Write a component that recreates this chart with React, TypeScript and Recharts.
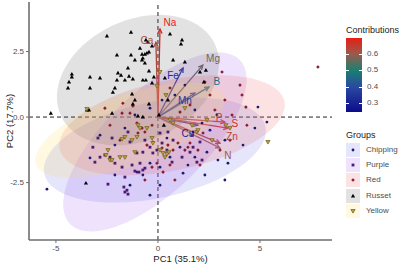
import { ScatterChart, Scatter, XAxis, YAxis, ReferenceLine } from "recharts"

// PCA scores per cultivar group
const chipping = [
  [-5.44, -2.75], [3.43, -1.76], [2.94, -1.64], [2.4, -1.34], [1.81, -1.53], [1.47, -1.83],
  [1.23, -2.14], [1.08, -1.15], [0.59, -1.53], [0.1, -1.91], [-0.39, -1.76], [-0.74, -2.21],
  [-1.03, -2.1], [0.44, -0.8], [1.72, -0.57], [2.16, -0.23], [2.89, 0.08], [4.9, 0.38],
  [5.34, -0.19], [4.75, -0.42], [4.17, -1.07], [-3.33, -1.56], [-2.84, -0.69], [-2.11, -1.07],
  [-1.62, -0.42], [-1.13, 0.08], [-0.39, 0.34], [0.2, 0.65], [0.83, 0.84], [1.32, 1.22],
  [1.81, 0.27], [2.55, -0.5], [3.28, -0.88], [0.1, -2.6], [-0.39, -2.98], [-1.37, -2.6],
  [-2.11, -2.21], [2.3, -2.21], [3.28, -2.4],
]
const purple = [
  [-2.94, -0.8], [-3.19, -1.15], [-2.84, -1.53], [-2.45, -2.56], [-1.67, -2.67], [-1.62, -2.86],
  [-1.47, -2.94], [-1.13, -2.06], [-0.93, -2.1], [-0.74, -2.02], [-1.62, -2.29], [-1.27, -1.83],
  [-2.11, -1.76], [-2.35, -1.53], [-2.6, -1.45], [-1.76, -1.91], [-0.64, -1.95], [-0.88, -1.76],
  [-1.03, -1.37], [-0.74, -1.34], [-0.39, -1.15], [-0.25, -1.37], [-0.05, -1.26], [0.2, -0.99],
  [0.44, -1.26], [0.69, -1.72], [1.18, -1.53], [1.57, -1.34], [1.91, -1.72], [2.16, -1.64],
  [2.06, -0.95], [1.72, -1.15], [-1.52, -2.79], [-3.09, -1.72], [-2.25, -0.8], [-1.37, -0.95],
  [-1.47, -0.57], [-0.64, -0.88], [0.1, -0.61], [0.49, -0.57], [0.74, -0.88],
]
const red = [
  [7.84, 1.91], [4.02, 1.22], [4.12, 0.84], [4.31, 0.38], [4.36, -0.31], [3.14, 1.72],
  [2.3, 1.34], [-1.72, 0.53], [-1.23, 0.42], [-1.37, 0.15], [-1.76, 0.15], [-1.03, -0.23],
  [-0.78, -0.42], [-0.98, -0.61], [-0.64, -0.57], [-0.29, -0.31], [-0.25, -0.95], [-0.54, -1.07],
  [-0.05, -1.76], [0.25, -2.1], [0.59, -1.83], [0.74, -1.26], [0.98, -0.99], [1.32, -1.26],
  [1.57, -0.99], [1.96, -1.26], [2.21, -0.61], [1.67, -0.69], [1.47, -1.15], [0.2, -1.18],
  [0.49, -1.07], [-0.29, -1.91], [2.79, 0.27], [3.28, 0.65], [3.63, 0.08], [2.55, 0.84],
  [1.57, 0.46], [1.08, 0.19], [0.59, 1.11], [3.04, -1.26], [3.53, -0.88], [-1.86, -0.88],
  [-2.35, -0.31], [-2.6, 0.34], [2.06, -1.83], [0.83, -2.4], [-0.64, -2.4],
]
const russet = [
  [-2.5, 3.09], [-1.32, 3.24], [-0.59, 2.94], [-0.49, 2.86], [0.59, 3.17], [1.18, 2.94],
  [1.13, 2.79], [-0.88, 2.63], [-0.78, 2.4], [-0.64, 2.4], [-0.54, 2.44], [-0.44, 2.48],
  [-2.01, 2.37], [-1.32, 2.37], [-1.13, 2.18], [-0.74, 2.25], [-0.64, 2.06], [-0.29, 2.71],
  [-4.22, 1.64], [-4.22, 1.53], [-4.36, 1.34], [-4.41, 1.11], [-3.33, 1.11], [-2.84, 1.49],
  [-3.33, 1.53], [-1.96, 1.68], [-1.81, 1.6], [-1.47, 1.87], [-1.42, 1.56], [-1.62, 1.41],
  [-2.01, 1.41], [-1.23, 1.45], [-0.74, 1.41], [-0.59, 1.41], [-0.44, 1.76], [-0.2, 1.53],
  [-0.29, 1.3], [-2.11, 1.11], [-2.21, 0.95], [-1.27, 0.88], [-1.13, 0.65], [-1.23, 0.5],
  [-3.48, 0.27], [-3.38, 0.27], [-5.25, 0.15], [-0.98, 0.04], [-0.74, 0.0], [0.05, 0.08],
  [-3.53, -2.52], [0.74, 2.18], [1.32, 2.1], [2.06, 1.72], [2.35, 1.79], [2.25, 1.34],
  [0.34, 1.49], [0.49, 0.65], [-0.78, 2.18], [-2.25, 0.15], [-0.44, 0.5], [0.29, -0.31],
]
const yellow = [
  [-3.48, 0.31], [-2.45, -1.26], [-2.55, -1.45], [-2.35, -1.64], [-1.86, -1.53], [-1.62, -1.53],
  [-0.98, -0.31], [-0.88, -0.42], [-0.54, -0.42], [-1.03, -0.76], [-1.27, -0.88], [-0.29, -0.8],
  [-0.25, -0.99], [0.44, -1.41], [0.54, -1.34], [0.1, 1.72], [-0.05, 1.18], [-1.62, -0.76],
  [-1.76, -0.84], [-1.13, -1.34], [0.1, -1.26], [0.25, -1.37], [0.34, -1.53], [0.59, -0.11],
  [0.74, -0.23], [1.67, -0.31], [1.91, -0.57], [5.39, -0.95], [1.96, -0.5], [2.4, -0.11],
  [-2.25, -1.64], [3.33, -0.31], [3.53, -0.42], [2.65, -0.88], [1.32, 0.34], [0.39, 0.84],
]

const groups = ["Chipping", "Purple", "Red", "Russet", "Yellow"]
const groupScores = [chipping, purple, red, russet, yellow]

// concentration ellipses: centre and the two semi-axis vectors (data units)
const ellipseCentre = [[-0.15, -1.26], [-0.15, -0.95], [0.69, -0.31], [-0.98, 1.41], [-1.37, -0.5]]
const ellipseAxisA = [[5.42, 0.9], [4.16, 3.13], [5.51, 0.91], [3.77, 1.37], [4.61, 1.31]]
const ellipseAxisB = [[0.49, -1.79], [1.7, -1.37], [0.46, -1.68], [1.25, -2.08], [0.59, -1.26]]

// variable loadings (arrow tips), contributions and label spots
const variables = ["Na", "Ca", "Mg", "Fe", "B", "Mn", "Cu", "P", "S", "Zn", "N"]
const loadings = [
  [0.1, 3.36], [-0.1, 2.85], [2.2, 1.98], [1.23, 1.87], [2.5, 1.15], [1.81, 0.92],
  [1.96, -0.31], [3.28, -0.19], [3.43, -0.42], [3.04, -1.0], [3.04, -1.18],
]
const contributions = [0.69, 0.63, 0.56, 0.33, 0.47, 0.36, 0.3, 0.66, 0.67, 0.64, 0.6]
const labelAt = [
  [0.59, 3.59], [-0.54, 2.94], [2.7, 2.25], [0.74, 1.6], [2.89, 1.34], [1.32, 0.65],
  [1.47, -0.61], [2.99, 0.0], [3.77, -0.23], [3.63, -0.76], [3.43, -1.45],
]
const contribTicks = [0.3, 0.4, 0.5, 0.6]

const fillCols = ["#7070f0", "#a060f0", "#f06060", "#606060", "#ffe060"]
const pointCols = ["#1c1c70", "#4b1c70", "#8c1c2c", "#000000", "#7a6a1c"]
const gradStops = [0.245, 0.4, 0.5, 0.6, 0.697]
const gradCols = ["#0c0c8c", "#2a4aa0", "#1a8070", "#9c5a4c", "#e81e14"]

const font = '"Liberation Sans", Arial, sans-serif'

function hexToRgb(h: string) {
  const n = parseInt(h.slice(1), 16)
  return [(n >> 16) & 255, (n >> 8) & 255, n & 255]
}

function contribColor(v: number) {
  let i = 0
  while (i < gradStops.length - 2 && v > gradStops[i + 1]) i++
  const t = Math.max(0, Math.min(1, (v - gradStops[i]) / (gradStops[i + 1] - gradStops[i])))
  const a = hexToRgb(gradCols[i])
  const b = hexToRgb(gradCols[i + 1])
  const c = a.map((x, k) => Math.round(x + (b[k] - x) * t))
  return `rgb(${c[0]},${c[1]},${c[2]})`
}

function ellipseOutline(g: number) {
  const out = []
  for (let k = 0; k <= 72; k++) {
    const t = (k / 72) * Math.PI * 2
    out.push({
      x: ellipseCentre[g][0] + Math.cos(t) * ellipseAxisA[g][0] + Math.sin(t) * ellipseAxisB[g][0],
      y: ellipseCentre[g][1] + Math.cos(t) * ellipseAxisA[g][1] + Math.sin(t) * ellipseAxisB[g][1],
    })
  }
  return out
}

function Marker({ g, cx, cy }: { g: number; cx: number; cy: number }) {
  const c = pointCols[g]
  if (g === 0) return <circle cx={cx} cy={cy} r={1.4} fill={c} />
  if (g === 1) return <rect x={cx - 1.4} y={cy - 1.4} width={2.8} height={2.8} fill={c} />
  if (g === 2) return <polygon points={`${cx},${cy - 1.8} ${cx + 1.8},${cy} ${cx},${cy + 1.8} ${cx - 1.8},${cy}`} fill={c} />
  if (g === 3) return <polygon points={`${cx},${cy - 2.2} ${cx + 2.1},${cy + 1.5} ${cx - 2.1},${cy + 1.5}`} fill={c} />
  return (
    <polygon
      points={`${cx},${cy + 2.1} ${cx + 2.1},${cy - 1.5} ${cx - 2.1},${cy - 1.5}`}
      fill="#b8a050"
      stroke={c}
      strokeWidth={0.8}
    />
  )
}

function Arrow(props: any) {
  const { x1, y1, x2, y2, stroke } = props
  const ang = Math.atan2(y2 - y1, x2 - x1)
  const L = 5
  const a = Math.PI / 7
  const p1 = `${x2 - L * Math.cos(ang - a)},${y2 - L * Math.sin(ang - a)}`
  const p2 = `${x2 - L * Math.cos(ang + a)},${y2 - L * Math.sin(ang + a)}`
  return (
    <g>
      <line x1={x1} y1={y1} x2={x2} y2={y2} stroke={stroke} strokeWidth={1.3} />
      <polyline points={`${p1} ${x2},${y2} ${p2}`} fill="none" stroke={stroke} strokeWidth={1.3} />
    </g>
  )
}

function VarLabel(props: any) {
  const { cx, cy, payload } = props
  return (
    <text x={cx} y={cy} textAnchor="middle" dominantBaseline="central" fontSize={10} fontFamily={font} fill={payload.color}>
      {payload.name}
    </text>
  )
}

const barTop = 38
const barH = 74
const barY = (v: number) => barTop + barH - ((v - gradStops[0]) / (gradStops[4] - gradStops[0])) * barH

export default function App() {
  const labelData = variables.map((name, i) => ({
    x: labelAt[i][0],
    y: labelAt[i][1],
    name,
    color: contribColor(contributions[i]),
  }))
  const gradient = `linear-gradient(to top, ${gradCols
    .map((c, i) => `${c} ${((gradStops[i] - gradStops[0]) / (gradStops[4] - gradStops[0])) * 100}%`)
    .join(", ")})`

  return (
    <div style={{ position: "fixed", left: 0, top: 0, width: 400, height: 264, background: "#fff", fontFamily: font }}>
      <ScatterChart width={340} height={264} margin={{ top: 2, right: 8, bottom: 0, left: 0 }}>
        <XAxis
          type="number"
          dataKey="x"
          domain={[-6.32, 8.53]}
          allowDataOverflow
          ticks={[-5, 0, 5]}
          height={24}
          tickSize={3}
          axisLine={{ stroke: "#6e6e6e", strokeWidth: 1.6 }}
          tickLine={{ stroke: "#6e6e6e" }}
          tick={{ fontSize: 8, fill: "#4d4d4d", fontFamily: font }}
          label={{ value: "PC1 (35.1%)", position: "insideBottom", offset: 2, fontSize: 9.5, fill: "#222", fontFamily: font }}
        />
        <YAxis
          type="number"
          dataKey="y"
          domain={[-4.69, 4.39]}
          allowDataOverflow
          ticks={[-2.5, 0, 2.5]}
          width={29}
          tickSize={3}
          tickFormatter={(v: number) => v.toFixed(1)}
          axisLine={{ stroke: "#6e6e6e", strokeWidth: 1.6 }}
          tickLine={{ stroke: "#6e6e6e" }}
          tick={{ fontSize: 8, fill: "#4d4d4d", fontFamily: font }}
          label={{
            content: (p: any) => {
              const cy = p.viewBox.y + p.viewBox.height / 2
              return (
                <text
                  x={9}
                  y={cy}
                  transform={`rotate(-90, 9, ${cy})`}
                  textAnchor="middle"
                  dominantBaseline="central"
                  fontSize={9.5}
                  fill="#222"
                  fontFamily={font}
                >
                  PC2 (17.7%)
                </text>
              )
            },
          }}
        />
        {groups.map((g, i) => (
          <Scatter
            key={"ell-" + g}
            data={ellipseOutline(i)}
            shape={() => <g />}
            line={{ fill: fillCols[i], fillOpacity: 0.18, stroke: "none" }}
            lineType="joint"
            isAnimationActive={false}
          />
        ))}
        <ReferenceLine x={0} stroke="#222" strokeDasharray="4 3" />
        <ReferenceLine y={0} stroke="#222" strokeDasharray="4 3" />
        {groups.map((g, i) => (
          <Scatter
            key={"pts-" + g}
            name={g}
            data={groupScores[i].map(([x, y]) => ({ x, y }))}
            shape={(p: any) => <Marker g={i} cx={p.cx} cy={p.cy} />}
            isAnimationActive={false}
          />
        ))}
        {variables.map((v, i) => (
          <ReferenceLine
            key={"arr-" + v}
            segment={[{ x: 0, y: 0 }, { x: loadings[i][0], y: loadings[i][1] }]}
            stroke={contribColor(contributions[i])}
            shape={Arrow}
          />
        ))}
        <Scatter data={labelData} shape={VarLabel} isAnimationActive={false} />
      </ScatterChart>

      <div style={{ position: "absolute", left: 346, top: 24, fontSize: 9, color: "#222", lineHeight: "12px" }}>
        Contributions
      </div>
      <div style={{ position: "absolute", left: 346, top: barTop, width: 16, height: barH, background: gradient }} />
      {contribTicks.map((t) => (
        <div key={t}>
          <div style={{ position: "absolute", left: 346, top: barY(t), width: 3, height: 1, background: "#fff" }} />
          <div style={{ position: "absolute", left: 359, top: barY(t), width: 3, height: 1, background: "#fff" }} />
          <div style={{ position: "absolute", left: 367, top: barY(t) - 5, fontSize: 8, color: "#4d4d4d", lineHeight: "10px" }}>
            {t.toFixed(1)}
          </div>
        </div>
      ))}

      <div style={{ position: "absolute", left: 346, top: 129, fontSize: 9, color: "#222", lineHeight: "12px" }}>Groups</div>
      {groups.map((g, i) => (
        <div key={g}>
          <svg style={{ position: "absolute", left: 346, top: 143 + i * 15.2 }} width={14} height={14}>
            <rect x={0} y={0} width={14} height={14} fill={fillCols[i]} fillOpacity={0.18} />
            <Marker g={i} cx={7} cy={7} />
          </svg>
          <div style={{ position: "absolute", left: 366, top: 145 + i * 15.2, fontSize: 8, color: "#4d4d4d", lineHeight: "10px" }}>
            {g}
          </div>
        </div>
      ))}
    </div>
  )
}
